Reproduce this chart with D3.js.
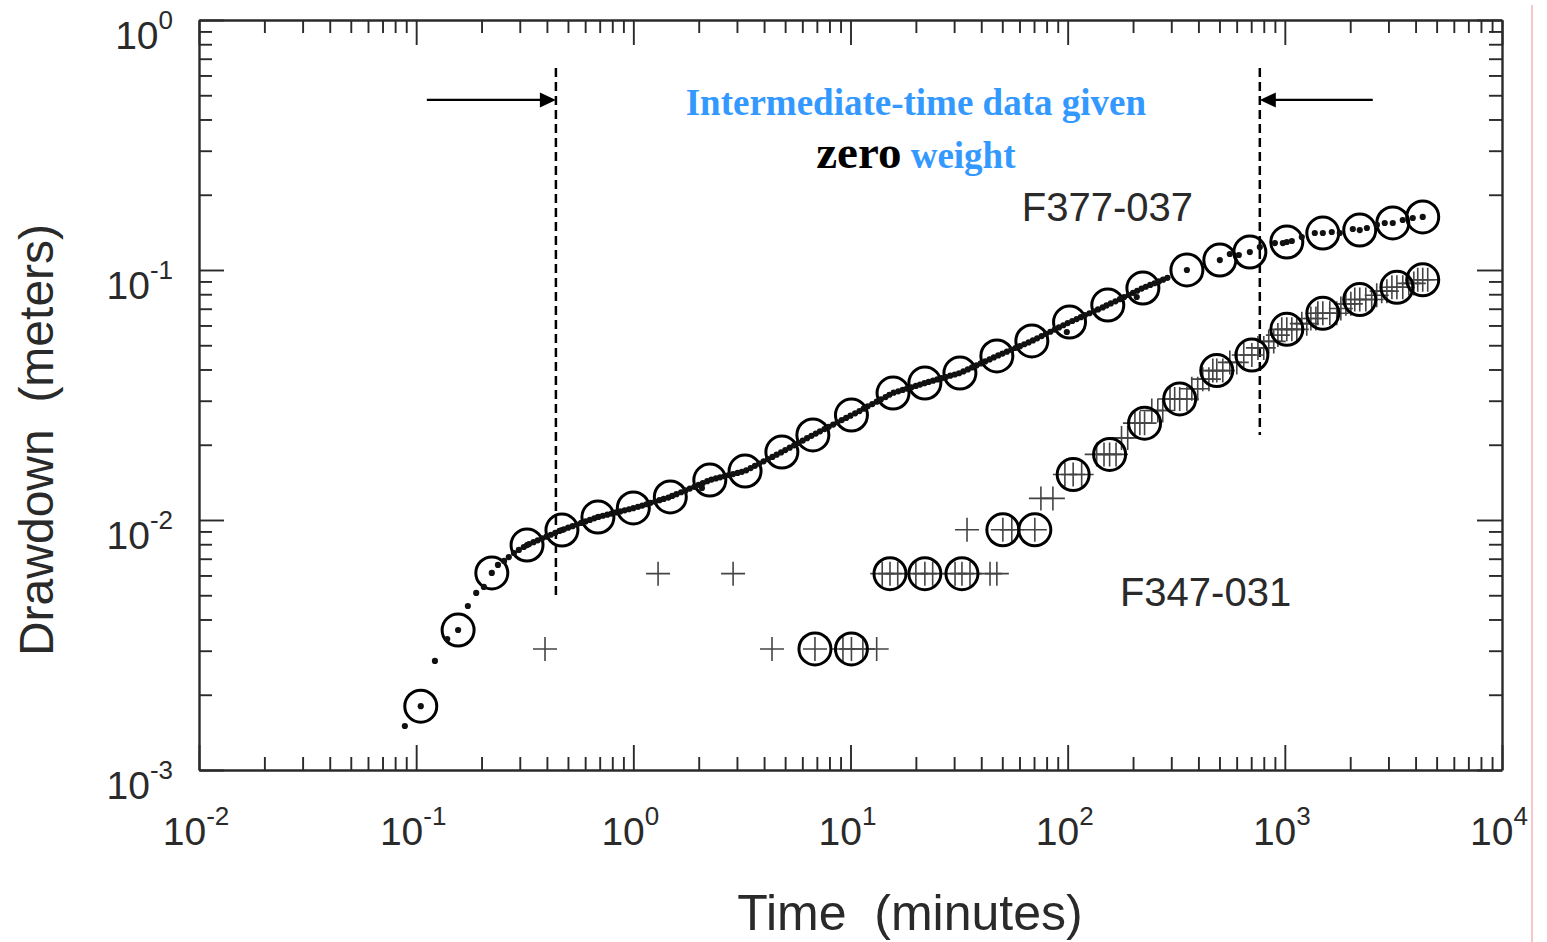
<!DOCTYPE html>
<html>
<head>
<meta charset="utf-8">
<script src="https://cdn.jsdelivr.net/npm/d3@7"></script>
<style>
  html, body { margin: 0; padding: 0; background: #fff; }
  svg { display: block; }
</style>
</head>
<body>
<svg id="chart" width="1547" height="942"></svg>
<script>
// ---- Data: time (minutes) and drawdown (meters) ----

// Well F377-037: every logged reading (small dots)
const f377Readings = [
  [0.0887,0.00150],[0.105,0.00180],[0.122,0.00273],[0.139,0.00334],[0.156,0.00363],[0.173,0.00453],
  [0.189,0.00511],[0.205,0.00540],[0.223,0.00614],[0.238,0.00661],[0.254,0.00686],[0.267,0.00711],
  [0.282,0.00738],[0.297,0.00759],[0.313,0.00780],[0.324,0.00794],
  [0.331,0.00801],[0.347,0.00815],[0.363,0.00829],[0.380,0.00844],[0.398,0.00858],[0.417,0.00873],
  [0.437,0.00888],[0.457,0.00904],[0.469,0.00912],[0.479,0.00918],[0.501,0.00932],[0.525,0.00945],
  [0.550,0.00959],[0.575,0.00973],[0.603,0.00987],[0.631,0.01001],[0.661,0.01016],[0.687,0.01028],
  [0.692,0.01030],[0.724,0.01040],[0.759,0.01050],[0.794,0.01061],[0.832,0.01072],[0.871,0.01082],
  [0.912,0.01093],[0.955,0.01104],
  [1.00,0.01115],[1.05,0.01128],[1.10,0.01142],[1.15,0.01156],[1.20,0.01171],[1.26,0.01185],
  [1.32,0.01200],[1.38,0.01214],[1.45,0.01229],[1.51,0.01248],[1.58,0.01269],[1.66,0.01291],
  [1.74,0.01313],[1.82,0.01336],[1.91,0.01358],[2.00,0.01382],[2.07,0.01343],[2.09,0.01405],
  [2.19,0.01430],[2.29,0.01451],[2.40,0.01466],[2.51,0.01481],[2.63,0.01496],[2.75,0.01512],
  [2.88,0.01527],[3.02,0.01543],[3.16,0.01559],[3.31,0.01580],[3.47,0.01613],[3.63,0.01647],
  [3.80,0.01681],[3.98,0.01716],[4.17,0.01752],[4.37,0.01788],[4.57,0.01825],[4.79,0.01863],
  [5.01,0.01904],[5.25,0.01946],[5.50,0.01989],[5.75,0.02033],[6.03,0.02078],[6.31,0.02124],
  [6.61,0.02171],[6.92,0.02217],[7.24,0.02263],[7.59,0.02311],[7.94,0.02359],[8.32,0.02408],
  [8.71,0.02458],[9.12,0.02509],[9.55,0.02561],
  [10.0,0.02614],[10.5,0.02670],[11.0,0.02728],[11.5,0.02787],[12.0,0.02848],[12.6,0.02910],
  [13.2,0.02973],[13.8,0.03037],[14.5,0.03103],[15.1,0.03170],[15.8,0.03232],[16.6,0.03272],
  [17.4,0.03313],[18.2,0.03354],[19.1,0.03396],[20.0,0.03439],[20.9,0.03482],[21.9,0.03525],
  [22.9,0.03566],[24.0,0.03607],[25.1,0.03649],[26.3,0.03691],[27.5,0.03733],[28.8,0.03777],
  [30.2,0.03819],[31.6,0.03864],[33.1,0.03930],[34.7,0.04003],[36.3,0.04077],[38.0,0.04153],
  [39.8,0.04230],[41.7,0.04309],[43.7,0.04389],[45.7,0.04471],[47.9,0.04552],[50.1,0.04631],
  [52.5,0.04711],[55.0,0.04793],[57.5,0.04875],[60.3,0.04960],[63.1,0.05047],[66.1,0.05133],
  [69.2,0.05226],[72.4,0.05332],[75.9,0.05439],[79.4,0.05549],[83.2,0.05662],[87.1,0.05776],
  [91.2,0.05893],[95.5,0.06012],[99.1,0.0565],
  [100,0.06134],[105,0.06251],[110,0.06364],[115,0.06478],[120,0.06595],[126,0.06714],
  [132,0.06834],[138,0.06958],[145,0.07084],[151,0.07213],[158,0.07350],[166,0.07496],
  [174,0.07642],[182,0.07793],[191,0.07945],[200,0.08102],[208,0.0780],[209,0.08260],
  [219,0.08424],[229,0.08570],[240,0.08712],[251,0.08853],[263,0.09000],[275,0.09149],
  [288,0.09301],
  [354,0.1000],[502,0.1096],[558,0.1159],[614,0.1148],[690,0.1180],[767,0.1236],
  [900,0.1282],[979,0.1282],[1021,0.1294],[1077,0.1306],[1197,0.1355],[1374,0.1406],
  [1496,0.1406],[1645,0.1419],[1791,0.1406],[2056,0.1459],[2213,0.1445],[2387,0.1472],
  [2655,0.1514],[2884,0.1542],[3141,0.1542],[3491,0.1585],[3882,0.1614],[4315,0.1630]
];

// Well F377-037: readings used in the fit (open circles)
const f377Fitted = [
  [0.105,0.0018],[0.156,0.00363],[0.223,0.00614],[0.324,0.00794],[0.469,0.00912],[0.687,0.01028],
  [1.0,0.01117],[1.48,0.01236],[2.25,0.01445],[3.27,0.0157],[4.83,0.0187],[6.71,0.0219],
  [10.1,0.0263],[15.7,0.0322],[22.0,0.0353],[31.9,0.0387],[47.2,0.0453],[68.4,0.052],
  [102,0.0619],[153,0.0724],[222,0.0847],[354,0.1],[502,0.1096],[690,0.118],
  [1021,0.1294],[1496,0.1406],[2213,0.1445],[3141,0.1542],[4315,0.163]
];

// Well F347-031: every logged reading (crosses), recorded in 0.01 ft steps
const f347Readings = [
  [0.392,0.00305],[1.30,0.0061],[2.88,0.0061],[4.35,0.00305],[6.86,0.00305],[9.23,0.00305],
  [10.1,0.00305],[11.4,0.00305],[13.2,0.00305],[14.0,0.0061],[15.2,0.0061],[16.5,0.0061],
  [20.0,0.0061],[22.0,0.0061],[23.9,0.0061],[30.3,0.0061],[32.6,0.0061],[34.4,0.00914],
  [35.5,0.0061],[43.9,0.0061],[47.2,0.0061],[50.3,0.00914],[55.3,0.00914],[70.6,0.00914],
  [75.3,0.0122],[85.5,0.0122],[97.1,0.0152],[106,0.0152],[116,0.0152],[136,0.0183],
  [147,0.0183],[156,0.0183],[167,0.0183],[177,0.0213],[189,0.0213],[204,0.0244],
  [215,0.0244],[226,0.0244],[244,0.0274],[260,0.0274],[274,0.0274],[296,0.0305],
  [311,0.0305],[328,0.0305],[354,0.0305],[373,0.0335],[397,0.0335],[419,0.0366],
  [447,0.0366],[466,0.0396],[486,0.0396],[518,0.0396],[558,0.0427],[601,0.0427],
  [647,0.0457],[705,0.0457],[752,0.0488],[800,0.0488],[843,0.0518],[889,0.0518],
  [929,0.0549],[968,0.0579],[1021,0.0579],[1077,0.0579],[1135,0.0579],[1197,0.061],
  [1262,0.061],[1318,0.064],[1390,0.064],[1419,0.0671],[1496,0.0671],[1611,0.0671],
  [1734,0.0671],[1811,0.0701],[1910,0.0732],[2014,0.0732],[2099,0.0762],[2213,0.0762],
  [2360,0.0762],[2512,0.0762],[2649,0.0792],[2793,0.0823],[2951,0.0823],[3112,0.0853],
  [3281,0.0853],[3491,0.0853],[3724,0.0884],[3926,0.0884],[4093,0.0914],[4315,0.0914],
  [4550,0.0914]
];

// Well F347-031: readings used in the fit (open circles)
const f347Fitted = [
  [6.86,0.00305],[10.1,0.00305],[15.2,0.0061],[22.0,0.0061],[32.6,0.0061],[50.3,0.00914],
  [70.6,0.00914],[106,0.0152],[156,0.0183],[226,0.0244],[328,0.0305],[486,0.0396],
  [705,0.0457],[1021,0.0579],[1496,0.0671],[2213,0.0762],[3281,0.0853],[4315,0.0914]
];

// Axis decades (powers of ten) and titles
const timeDecades = [-2, -1, 0, 1, 2, 3, 4];
const drawdownDecades = [-3, -2, -1, 0];
const timeTitle = "Time  (minutes)";
const drawdownTitle = "Drawdown  (meters)";

// Window of intermediate times given zero weight (minutes)
const zeroWeightWindow = [0.44, 767];

// Series labels and their anchor positions (time, drawdown)
const seriesLabels = [
  { text: "F377-037", t: 61.5, s: 0.157 },
  { text: "F347-031", t: 174, s: 0.00453 }
];

// ---- Layout ----
const svg = d3.select("#chart");
const plot = { left: 199, right: 1502, top: 20, bottom: 770 };
const sansFont = "'Liberation Sans', Arial, sans-serif";
const serifFont = "'Liberation Serif', 'Times New Roman', serif";
const inkDark = "#2a2a2a";

const x = d3.scaleLog().domain([1e-2, 1e4]).range([plot.left, plot.right]);
const y = d3.scaleLog().domain([1e-3, 1]).range([plot.bottom, plot.top]);

// tick values: 1..9 times every decade
function logTicks(lo, hi) {
  const out = [];
  for (let d = lo; d < hi; d++) for (let k = 1; k < 10; k++) out.push(k * Math.pow(10, d));
  out.push(Math.pow(10, hi));
  return out;
}
const isMajor = v => Math.abs(Math.log10(v) - Math.round(Math.log10(v))) < 1e-9;
const xTicks = logTicks(-2, 4);
const yTicks = logTicks(-3, 0);

const minorLen = 13, majorLen = 25;

function styleAxis(g, dir) {
  g.select(".domain").attr("stroke", inkDark).attr("stroke-width", 2.4);
  g.selectAll(".tick line")
    .attr("stroke", inkDark).attr("stroke-width", 1.9)
    .each(function(d) {
      const len = isMajor(d) ? majorLen : minorLen;
      const sel = d3.select(this);
      if (dir === "bottom") sel.attr("y2", -len);
      if (dir === "top") sel.attr("y2", len);
      if (dir === "left") sel.attr("x2", len);
      if (dir === "right") sel.attr("x2", -len);
    });
  g.selectAll(".tick text").remove();
}

svg.append("g").attr("transform", `translate(0,${plot.bottom})`)
  .call(d3.axisBottom(x).tickValues(xTicks).tickSizeInner(-minorLen).tickSizeOuter(0).tickFormat(""))
  .call(g => styleAxis(g, "bottom"));
svg.append("g").attr("transform", `translate(0,${plot.top})`)
  .call(d3.axisTop(x).tickValues(xTicks).tickSizeInner(-minorLen).tickSizeOuter(0).tickFormat(""))
  .call(g => styleAxis(g, "top"));
svg.append("g").attr("transform", `translate(${plot.left},0)`)
  .call(d3.axisLeft(y).tickValues(yTicks).tickSizeInner(-minorLen).tickSizeOuter(0).tickFormat(""))
  .call(g => styleAxis(g, "left"));
svg.append("g").attr("transform", `translate(${plot.right},0)`)
  .call(d3.axisRight(y).tickValues(yTicks).tickSizeInner(-minorLen).tickSizeOuter(0).tickFormat(""))
  .call(g => styleAxis(g, "right"));

// Power-of-ten tick labels
function powerLabel(sel, exp) {
  sel.append("tspan").text("10");
  sel.append("tspan").attr("dy", -20).attr("font-size", 26).text(String(exp).replace("\u2212", "-"));
}
svg.append("g").selectAll("text").data(timeDecades).join("text")
  .attr("x", d => x(Math.pow(10, d)) - 3)
  .attr("y", plot.bottom + 75)
  .attr("text-anchor", "middle")
  .attr("font-family", sansFont).attr("font-size", 39).attr("fill", inkDark)
  .each(function(d) { powerLabel(d3.select(this), d); });

svg.append("g").selectAll("text").data(drawdownDecades).join("text")
  .attr("x", plot.left - 26)
  .attr("y", d => y(Math.pow(10, d)) + 29)
  .attr("text-anchor", "end")
  .attr("font-family", sansFont).attr("font-size", 39).attr("fill", inkDark)
  .each(function(d) { powerLabel(d3.select(this), d); });

// Axis titles
svg.append("text")
  .attr("x", 910).attr("y", 930)
  .attr("text-anchor", "middle")
  .attr("font-family", sansFont).attr("font-size", 50).attr("fill", inkDark)
  .style("white-space", "pre")
  .text(timeTitle);
svg.append("text")
  .attr("transform", "translate(53,440) rotate(-90)")
  .attr("text-anchor", "middle")
  .attr("font-family", sansFont).attr("font-size", 48).attr("fill", inkDark)
  .style("white-space", "pre")
  .text(drawdownTitle);

// ---- Zero-weight window markers ----
const dashTop = 0.643;
const dashBottoms = [0.00492, 0.0219];
svg.append("g").selectAll("line").data(zeroWeightWindow).join("line")
  .attr("x1", d => x(d)).attr("x2", d => x(d))
  .attr("y1", y(dashTop))
  .attr("y2", (d, i) => y(dashBottoms[i]))
  .attr("stroke", "#000").attr("stroke-width", 2.5).attr("stroke-dasharray", "9,5");

// Arrows pointing at the window edges
const arrowLevel = 0.479;
const arrows = [
  { from: 0.112, to: zeroWeightWindow[0] },
  { from: 2541, to: zeroWeightWindow[1] }
];
const arrowG = svg.append("g");
arrows.forEach(a => {
  const x0 = x(a.from), x1 = x(a.to), yy = y(arrowLevel);
  const dir = Math.sign(x1 - x0);
  arrowG.append("line")
    .attr("x1", x0).attr("x2", x1 - dir * 10)
    .attr("y1", yy).attr("y2", yy)
    .attr("stroke", "#000").attr("stroke-width", 2.3);
  const p = d3.path();
  p.moveTo(x1, yy);
  p.lineTo(x1 - dir * 16, yy - 7.5);
  p.lineTo(x1 - dir * 16, yy + 7.5);
  p.closePath();
  arrowG.append("path").attr("d", p.toString()).attr("fill", "#000");
});

// Annotation text
const noteX = x(20.0);
svg.append("text")
  .attr("x", noteX).attr("y", y(0.417))
  .attr("text-anchor", "middle")
  .attr("font-family", serifFont).attr("font-weight", "bold")
  .attr("font-size", 37).attr("fill", "#3399ff")
  .text("Intermediate-time data given");
const note2 = svg.append("text")
  .attr("x", noteX).attr("y", y(0.256))
  .attr("text-anchor", "middle")
  .attr("font-family", serifFont).attr("font-weight", "bold");
note2.append("tspan").attr("font-size", 47).attr("fill", "#000").text("zero");
note2.append("tspan").attr("font-size", 37).attr("fill", "#3399ff").text(" weight");

// Series labels
svg.append("g").selectAll("text").data(seriesLabels).join("text")
  .attr("x", d => x(d.t)).attr("y", d => y(d.s))
  .attr("font-family", sansFont).attr("font-size", 40).attr("fill", inkDark)
  .text(d => d.text);

// ---- Marks ----
const crossPath = "M-12,0H12M0,-12V12";
svg.append("g").selectAll("path").data(f347Readings).join("path")
  .attr("d", crossPath)
  .attr("transform", d => `translate(${x(d[0])},${y(d[1])})`)
  .attr("stroke", "#444").attr("stroke-width", 1.6).attr("fill", "none");

const fitted = f377Fitted.concat(f347Fitted);
svg.append("g").selectAll("circle").data(fitted).join("circle")
  .attr("cx", d => x(d[0])).attr("cy", d => y(d[1]))
  .attr("r", 16)
  .attr("fill", "none").attr("stroke", "#000").attr("stroke-width", 3);

svg.append("g").selectAll("circle").data(f377Readings).join("circle")
  .attr("cx", d => x(d[0])).attr("cy", d => y(d[1]))
  .attr("r", 3.1)
  .attr("fill", "#111");

// thin vertical rule at the right edge of the page
svg.append("line")
  .attr("x1", 1532).attr("x2", 1532).attr("y1", 5).attr("y2", 942)
  .attr("stroke", "#f2a0a0").attr("stroke-width", 1.2);
</script>
</body>
</html>
